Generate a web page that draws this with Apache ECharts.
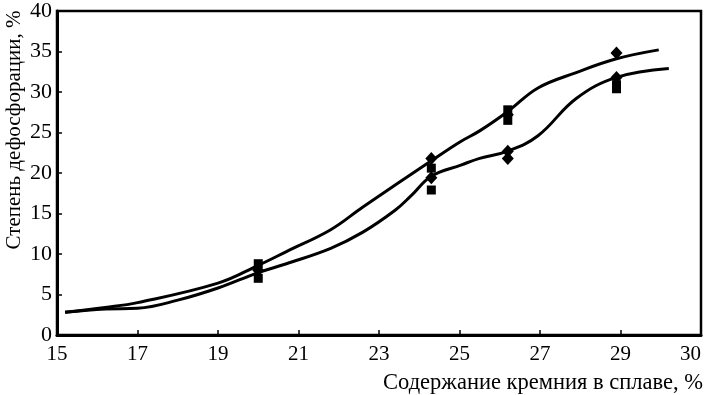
<!DOCTYPE html>
<html>
<head>
<meta charset="utf-8">
<script src="https://cdn.jsdelivr.net/npm/echarts@6/dist/echarts.min.js"></script>
<style>
  html, body { margin: 0; padding: 0; background: #fff; }
  #chart { width: 706px; height: 395px; }
</style>
</head>
<body>
<div id="chart"></div>
<script>
// verhnyaya i nizhnyaya krivye (x = Si, %, y = stepen', %)
var upperCurve = [
  [15.2, 2.8], [16.2, 3.4], [17, 4.0], [19, 6.4], [20, 8.6], [20.7, 10.3],
  [21.8, 13.0], [22.6, 15.8], [24.3, 21.5], [25.0, 23.8], [25.5, 25.2],
  [26.2, 27.6], [26.95, 30.5], [27.9, 32.4], [28.9, 34.1], [29.95, 35.2]
];
var lowerCurve = [
  [15.2, 2.8], [16.2, 3.2], [17, 3.3], [18, 4.3], [19, 5.8], [20, 7.7],
  [20.7, 8.8], [21.8, 10.7], [22.6, 12.7], [23.4, 15.4], [23.8, 17.2],
  [24.3, 19.6], [25.05, 21.0], [25.5, 21.8], [26.2, 22.7], [26.95, 24.6],
  [27.9, 29.2], [28.9, 31.8], [30.2, 32.9]
];
// eksperimental'nye tochki
var diamondPoints = [
  [20, 8.0], [24.3, 21.8], [24.3, 19.4], [26.2, 22.7], [26.2, 21.8],
  [26.2, 27.2], [28.9, 34.8], [28.9, 31.8]
];
var squarePoints = [
  [20, 8.8], [20, 7.0], [24.3, 20.6], [24.3, 17.9], [26.2, 27.8],
  [26.2, 26.5], [28.9, 30.9], [28.9, 30.4]
];
var yTicks = [0, 5, 10, 15, 20, 25, 30, 35, 40];

var chart = echarts.init(document.getElementById('chart'));
var font = '"Liberation Serif", "Times New Roman", serif';

chart.setOption({
  animation: false,
  grid: {
    left: 57,
    right: 5,
    top: 4,
    bottom: 60,
    show: true,
    borderColor: '#000',
    borderWidth: 2.5
  },
  xAxis: {
    type: 'value',
    min: 15,
    max: 31,
    interval: 2,
    axisLine: { lineStyle: { color: '#000', width: 3 } },
    axisTick: { inside: true, length: 5, lineStyle: { color: '#000', width: 1.5 } },
    axisLabel: {
      color: '#000',
      fontFamily: font,
      fontSize: 21,
      margin: 9,
      showMaxLabel: true,
      alignMaxLabel: 'right',
      formatter: function (v) { return v === 31 ? '30' : String(v); }
    },
    splitLine: { show: false }
  },
  yAxis: {
    type: 'value',
    min: yTicks[0],
    max: yTicks[yTicks.length - 1],
    interval: 5,
    axisLine: { show: true, lineStyle: { color: '#000', width: 3 } },
    axisTick: { show: true, inside: true, length: 5, lineStyle: { color: '#000', width: 1.5 } },
    axisLabel: { color: '#000', fontFamily: font, fontSize: 22, margin: 5 },
    splitLine: { show: false }
  },
  graphic: [
    {
      type: 'text',
      x: 14,
      y: 130,
      rotation: Math.PI / 2,
      style: {
        text: 'Степень дефосфорации, %',
        font: '21px ' + font,
        fill: '#000',
        align: 'center',
        verticalAlign: 'middle'
      }
    },
    {
      type: 'text',
      x: 703,
      y: 383,
      style: {
        text: 'Содержание кремния в сплаве, %',
        font: '22.5px ' + font,
        fill: '#000',
        align: 'right',
        verticalAlign: 'middle'
      }
    }
  ],
  series: [
    {
      type: 'line',
      data: upperCurve,
      smooth: 0.4,
      showSymbol: false,
      lineStyle: { color: '#000', width: 3 }
    },
    {
      type: 'line',
      data: lowerCurve,
      smooth: 0.4,
      showSymbol: false,
      lineStyle: { color: '#000', width: 3 }
    },
    {
      type: 'scatter',
      data: diamondPoints,
      symbol: 'diamond',
      symbolSize: [12, 13],
      itemStyle: { color: '#000', opacity: 1 }
    },
    {
      type: 'scatter',
      data: squarePoints,
      symbol: 'rect',
      symbolSize: 9,
      itemStyle: { color: '#000', opacity: 1 }
    }
  ]
});
</script>
</body>
</html>
